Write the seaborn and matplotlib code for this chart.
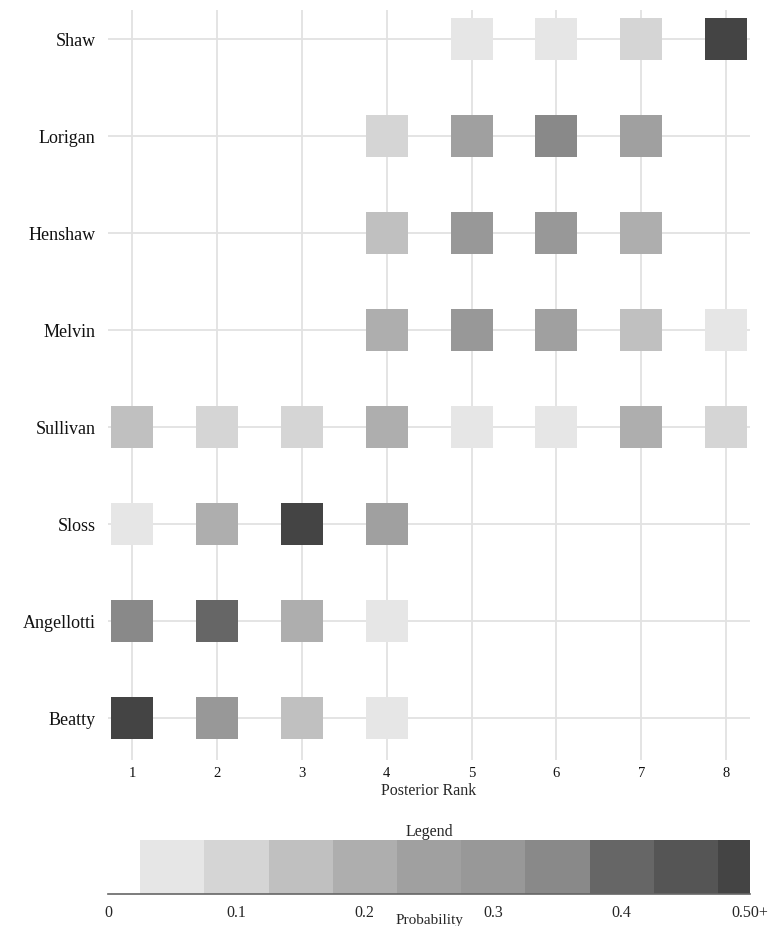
import matplotlib
matplotlib.use("Agg")
import matplotlib.pyplot as plt
import numpy as np
import pandas as pd
import seaborn as sns

# rows bottom -> top, as drawn on the y axis
PLAYERS = ["Beatty", "Angellotti", "Sloss", "Sullivan", "Melvin", "Henshaw", "Lorigan", "Shaw"]
RANKS = [1, 2, 3, 4, 5, 6, 7, 8]

# posterior probability of each rank (0 = no mark drawn)
BEATTY     = [0.55, 0.30, 0.15, 0.05, 0.00, 0.00, 0.00, 0.00]
ANGELLOTTI = [0.35, 0.40, 0.20, 0.05, 0.00, 0.00, 0.00, 0.00]
SLOSS      = [0.05, 0.20, 0.50, 0.25, 0.00, 0.00, 0.00, 0.00]
SULLIVAN   = [0.15, 0.10, 0.10, 0.20, 0.05, 0.05, 0.20, 0.10]
MELVIN     = [0.00, 0.00, 0.00, 0.20, 0.30, 0.25, 0.15, 0.05]
HENSHAW    = [0.00, 0.00, 0.00, 0.15, 0.30, 0.30, 0.20, 0.00]
LORIGAN    = [0.00, 0.00, 0.00, 0.10, 0.25, 0.35, 0.25, 0.00]
SHAW       = [0.00, 0.00, 0.00, 0.00, 0.05, 0.05, 0.10, 0.80]

# colour bins of the legend
BIN_LEFT  = [0.025, 0.075, 0.125, 0.175, 0.225, 0.275, 0.325, 0.375, 0.425, 0.475]
BIN_RIGHT = [0.075, 0.125, 0.175, 0.225, 0.275, 0.325, 0.375, 0.425, 0.475, 0.500]
GREYS = ["#e6e6e6", "#d5d5d5", "#c0c0c0", "#aeaeae", "#a0a0a0",
         "#989898", "#898989", "#666666", "#555555", "#444444"]
LEG_TICKS = [0.0, 0.1, 0.2, 0.3, 0.4, 0.5]
LEG_TICK_LABELS = ["0", "0.1", "0.2", "0.3", "0.4", "0.50+"]

SERIF = ["Liberation Serif", "DejaVu Serif"]
GRID = "#e2e2e2"

rows = [BEATTY, ANGELLOTTI, SLOSS, SULLIVAN, MELVIN, HENSHAW, LORIGAN, SHAW]
df = pd.DataFrame(
    [(r, i, p) for i, probs in enumerate(rows) for r, p in zip(RANKS, probs)],
    columns=["rank", "row", "prob"],
)
df = df[df["prob"] >= BIN_LEFT[0]].copy()
df["level"] = np.clip(np.searchsorted(BIN_LEFT, df["prob"], side="right") - 1, 0, len(GREYS) - 1)

sns.set_theme(style="white")
plt.rcParams["font.family"] = SERIF

fig = plt.figure(figsize=(7.7, 9.26), dpi=100)
ax = fig.add_axes([108 / 770, 1 - 760 / 926, 642 / 770, 750 / 926])

for r in RANKS:
    ax.axvline(r, color=GRID, lw=1.3, zorder=0)
for i in range(len(PLAYERS)):
    ax.axhline(i, color=GRID, lw=1.3, zorder=0)

sns.scatterplot(
    data=df, x="rank", y="row", hue="level", marker="s", s=(42 * 0.72) ** 2,
    palette=dict(enumerate(GREYS)), hue_order=list(range(len(GREYS))),
    linewidth=0, legend=False, ax=ax, zorder=3,
)

ax.set_xlim(0.718, 8.28)
ax.set_ylim(-0.433, 7.3)
ax.set_xticks(RANKS)
ax.set_xticklabels([str(r) for r in RANKS], fontsize=10.5)
ax.set_yticks(range(len(PLAYERS)))
ax.set_yticklabels(PLAYERS, fontsize=13)
ax.tick_params(axis="both", length=0, colors="#111111")
ax.tick_params(axis="y", pad=9)
ax.tick_params(axis="x", pad=5)
ax.set_xlabel("Posterior Rank", fontsize=11.5, labelpad=2)
ax.set_ylabel("")
sns.despine(ax=ax, left=True, bottom=True)

# legend bar
lax = fig.add_axes([108 / 770, 1 - 894 / 926, 642 / 770, 54 / 926])
lax.bar(BIN_LEFT, 1, width=np.subtract(BIN_RIGHT, BIN_LEFT), align="edge",
        color=GREYS, linewidth=0)
lax.set_xlim(0, 0.5)
lax.set_ylim(0, 1)
lax.set_yticks([])
lax.set_xticks(LEG_TICKS)
lax.set_xticklabels(LEG_TICK_LABELS, fontsize=11.5)
lax.tick_params(axis="x", direction="out", length=5, width=1, color="#666666", pad=3)
for side in ["left", "top", "right"]:
    lax.spines[side].set_visible(False)
lax.spines["bottom"].set_color("#666666")
lax.spines["bottom"].set_linewidth(1.2)
lax.set_title("Legend", fontsize=11.5, pad=3)
lax.set_xlabel("Probability", fontsize=11)
lax.xaxis.set_label_coords(0.5, -0.37)

fig.savefig("out.png", dpi=100, facecolor="white")
